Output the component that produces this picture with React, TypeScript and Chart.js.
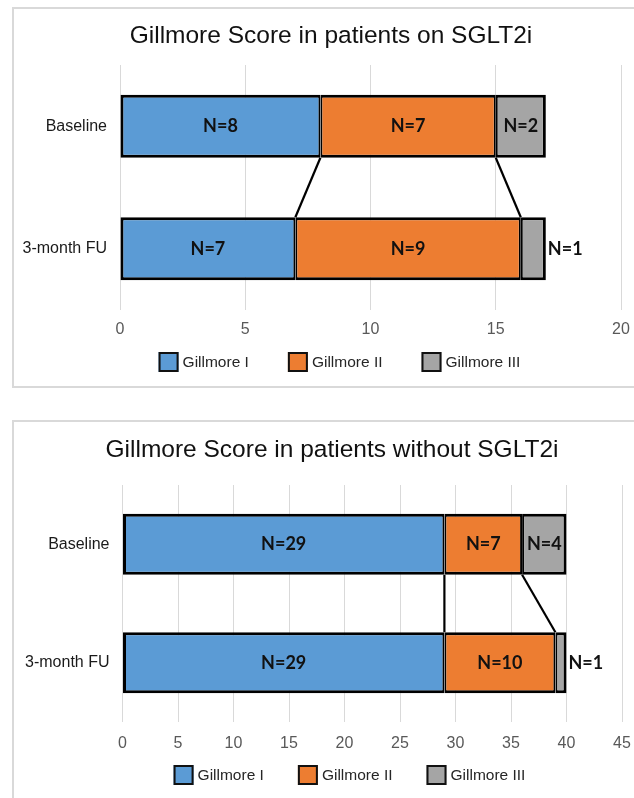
import { useEffect, useRef } from 'react';
import { Chart, registerables } from 'chart.js';

Chart.register(...registerables);

// ---- data ----
const categories = ['Baseline', '3-month FU'];
const seriesLabels = ['Gillmore I', 'Gillmore II', 'Gillmore III'];
const seriesColors = ['#5B9BD5', '#ED7D31', '#A5A5A5'];

const onTitle = 'Gillmore Score in patients on SGLT2i';
const onGillmoreI = [8, 7];
const onGillmoreII = [7, 9];
const onGillmoreIII = [2, 1];
const onAxisMax = 20;

const withoutTitle = 'Gillmore Score in patients without SGLT2i';
const withoutGillmoreI = [29, 29];
const withoutGillmoreII = [7, 10];
const withoutGillmoreIII = [4, 1];
const withoutAxisMax = 45;

const tickStep = 5;

const SANS = '"Liberation Sans", Arial, sans-serif';

type Geo = {
  canvasTop: number;
  canvasH: number;
  padTop: number;
  padBottom: number;
  padRight: number;
  axisW: number;
  tickPad: number;
  titleX: number;
  titleY: number;
  legendX: number;
  legendY: number;
  legendGap: number;
};

function makeDecor(title: string, g: Geo) {
  return {
    id: 'decor',
    afterDatasetsDraw(chart: any) {
      const ctx: CanvasRenderingContext2D = chart.ctx;
      const xs = chart.scales.x;
      const ds = chart.data.datasets;
      const n = ds.length;
      // connectors between stacked boundaries of the two bars
      ctx.save();
      ctx.strokeStyle = '#000';
      ctx.lineWidth = 2.2;
      for (let k = 0; k < n - 1; k++) {
        let c0 = 0;
        let c1 = 0;
        for (let i = 0; i <= k; i++) {
          c0 += ds[i].data[0];
          c1 += ds[i].data[1];
        }
        const e0 = chart.getDatasetMeta(k).data[0].getProps(['y', 'height'], true);
        const e1 = chart.getDatasetMeta(k).data[1].getProps(['y', 'height'], true);
        ctx.beginPath();
        ctx.moveTo(xs.getPixelForValue(c0), e0.y + e0.height / 2);
        ctx.lineTo(xs.getPixelForValue(c1), e1.y - e1.height / 2);
        ctx.stroke();
      }
      // data labels
      ctx.font = 'bold 18px Lato, "Open Sans", sans-serif';
      ctx.fillStyle = '#111';
      ctx.textBaseline = 'middle';
      for (let i = 0; i < n; i++) {
        const meta = chart.getDatasetMeta(i);
        meta.data.forEach((el: any, j: number) => {
          const p = el.getProps(['x', 'y', 'base'], true);
          const txt = 'N=' + ds[i].data[j];
          const w = ctx.measureText(txt).width;
          const segW = Math.abs(p.x - p.base);
          if (segW > w + 6) {
            ctx.textAlign = 'center';
            ctx.fillText(txt, (p.x + p.base) / 2, p.y);
          } else {
            ctx.textAlign = 'left';
            ctx.fillText(txt, Math.max(p.x, p.base) + 2, p.y);
          }
        });
      }
      ctx.restore();
    },
    afterDraw(chart: any) {
      const ctx: CanvasRenderingContext2D = chart.ctx;
      ctx.save();
      // title
      ctx.font = '24.5px ' + SANS;
      ctx.fillStyle = '#111';
      ctx.textAlign = 'center';
      ctx.textBaseline = 'alphabetic';
      ctx.fillText(title, g.titleX, g.titleY);
      // legend
      ctx.font = '15.5px ' + SANS;
      const box = 20;
      const items = chart.data.datasets.map((d: any) => ({
        label: d.label,
        color: d.backgroundColor,
        w: box + 4 + ctx.measureText(d.label).width,
      }));
      const total = items.reduce((s: number, it: any) => s + it.w, 0) + g.legendGap * (items.length - 1);
      let x = g.legendX - total / 2;
      ctx.textAlign = 'left';
      ctx.textBaseline = 'middle';
      items.forEach((it: any) => {
        ctx.fillStyle = it.color;
        ctx.fillRect(x, g.legendY - box / 2, box, box);
        ctx.strokeStyle = '#111';
        ctx.lineWidth = 2;
        ctx.strokeRect(x + 1, g.legendY - box / 2 + 1, box - 2, box - 2);
        ctx.fillStyle = '#262626';
        ctx.fillText(it.label, x + box + 4, g.legendY + 1);
        x += it.w + g.legendGap;
      });
      ctx.restore();
    },
  };
}

function GillmoreChart({ title, series, xMax, g }: { title: string; series: number[][]; xMax: number; g: Geo }) {
  const ref = useRef<HTMLCanvasElement>(null);
  useEffect(() => {
    const chart = new Chart(ref.current as HTMLCanvasElement, {
      type: 'bar',
      data: {
        labels: categories,
        datasets: series.map((d, i) => ({
          label: seriesLabels[i],
          data: d,
          backgroundColor: seriesColors[i],
          borderColor: '#000',
          borderSkipped: false,
          borderWidth: {
            top: 3,
            bottom: 3,
            left: i === 0 ? 3 : 2,
            right: i === series.length - 1 ? 3 : 2,
          },
          categoryPercentage: 1,
          barPercentage: 0.515,
        })),
      },
      options: {
        indexAxis: 'y',
        responsive: false,
        animation: false,
        events: [],
        layout: { padding: { left: 0, right: g.padRight, top: g.padTop, bottom: g.padBottom } },
        plugins: {
          legend: { display: false },
          title: { display: false },
          tooltip: { enabled: false },
        },
        scales: {
          x: {
            stacked: true,
            min: 0,
            max: xMax,
            ticks: { stepSize: tickStep, color: '#595959', font: { family: SANS, size: 16 }, padding: g.tickPad },
            grid: { color: '#d9d9d9', lineWidth: 1, drawTicks: false },
            border: { display: false },
            afterFit: (s: any) => {
              s.height = 40;
            },
          },
          y: {
            stacked: true,
            ticks: { color: '#1a1a1a', font: { family: SANS, size: 16 }, padding: 13 },
            grid: { display: false, drawTicks: false },
            border: { display: false },
            afterFit: (s: any) => {
              s.width = g.axisW;
            },
          },
        },
      } as any,
      plugins: [makeDecor(title, g) as any],
    });
    return () => chart.destroy();
  }, []);
  return (
    <canvas
      ref={ref}
      width={680}
      height={g.canvasH}
      style={{ position: 'absolute', left: 0, top: g.canvasTop, width: 680, height: g.canvasH }}
    />
  );
}

const topGeo: Geo = {
  canvasTop: 0,
  canvasH: 400,
  padTop: 65,
  padBottom: 50,
  padRight: 59,
  axisW: 120,
  tickPad: 10,
  titleX: 331,
  titleY: 43,
  legendX: 339.5,
  legendY: 362,
  legendGap: 39,
};

const bottomGeo: Geo = {
  canvasTop: 400,
  canvasH: 420,
  padTop: 85,
  padBottom: 58,
  padRight: 58,
  axisW: 122.5,
  tickPad: 12,
  titleX: 332,
  titleY: 57,
  legendX: 349.5,
  legendY: 375,
  legendGap: 34,
};

export default function App() {
  return (
    <div
      style={{
        position: 'fixed',
        left: 0,
        top: 0,
        width: 634,
        height: 798,
        overflow: 'hidden',
        background: '#fff',
      }}
    >
      <div
        style={{
          position: 'absolute',
          left: 12,
          top: 7,
          width: 700,
          height: 381,
          border: '2px solid #d9d9d9',
          boxSizing: 'border-box',
        }}
      />
      <div
        style={{
          position: 'absolute',
          left: 12,
          top: 420,
          width: 700,
          height: 500,
          border: '2px solid #d9d9d9',
          boxSizing: 'border-box',
        }}
      />
      <GillmoreChart title={onTitle} series={[onGillmoreI, onGillmoreII, onGillmoreIII]} xMax={onAxisMax} g={topGeo} />
      <GillmoreChart
        title={withoutTitle}
        series={[withoutGillmoreI, withoutGillmoreII, withoutGillmoreIII]}
        xMax={withoutAxisMax}
        g={bottomGeo}
      />
    </div>
  );
}
